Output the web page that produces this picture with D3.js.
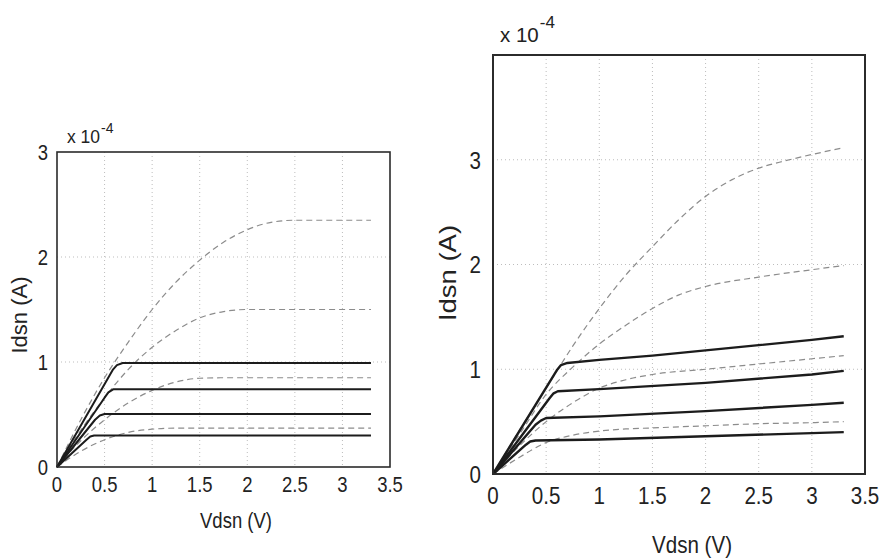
<!DOCTYPE html>
<html lang="en">
<head>
<meta charset="utf-8" />
<title>Idsn vs Vdsn</title>
<script src="https://cdn.jsdelivr.net/npm/d3@7"></script>
<style>
  body { margin: 0; background: #fff; }
  svg { display: block; font-family: "Liberation Sans", Arial, Helvetica, sans-serif; }
  .grid { stroke: #bdbdbd; stroke-width: 1; stroke-dasharray: 1,3; }
  .solid { fill: none; stroke: #1c1c1c; stroke-linejoin: round; }
  .dash { fill: none; stroke: #8c8c8c; stroke-width: 1.2; stroke-dasharray: 6,4; }
  text { fill: #222; }
</style>
</head>
<body>
<script>
  // DATA  (Idsn in units of 1e-4 A, Vdsn in V)
  var xTicks = [0, 0.5, 1, 1.5, 2, 2.5, 3, 3.5];
  var yTicks = [0, 1, 2, 3];

  // left plot, solid curves
  var leftSolid1 = [[0,0],[0.59,0.93],[0.63,0.97],[0.69,0.99],[3.3,0.99]];
  var leftSolid2 = [[0,0],[0.50,0.66],[0.54,0.71],[0.59,0.74],[3.3,0.74]];
  var leftSolid3 = [[0,0],[0.40,0.45],[0.45,0.49],[0.50,0.505],[3.3,0.505]];
  var leftSolid4 = [[0,0],[0.31,0.26],[0.35,0.29],[0.39,0.30],[3.3,0.30]];
  // left plot, dashed curves
  var leftDash1 = [[0,0],[0.25,0.45],[0.5,0.85],[0.75,1.19],[1,1.5],[1.25,1.76],[1.5,1.97],[1.75,2.14],[2,2.26],[2.25,2.33],[2.5,2.35],[3.3,2.35]];
  var leftDash2 = [[0,0],[0.25,0.35],[0.5,0.66],[0.75,0.93],[1,1.14],[1.25,1.3],[1.5,1.42],[1.75,1.48],[2,1.5],[3.3,1.5]];
  var leftDash3 = [[0,0],[0.25,0.25],[0.5,0.45],[0.75,0.61],[1,0.73],[1.25,0.81],[1.5,0.845],[1.75,0.85],[3.3,0.85]];
  var leftDash4 = [[0,0],[0.25,0.15],[0.5,0.26],[0.75,0.33],[1,0.36],[1.25,0.37],[3.3,0.37]];

  // right plot, solid curves
  var rightSolid1 = [[0,0],[0.6,0.99],[0.64,1.04],[0.7,1.06],[1,1.09],[1.5,1.13],[2,1.18],[2.5,1.23],[3,1.28],[3.3,1.315]];
  var rightSolid2 = [[0,0],[0.53,0.72],[0.57,0.77],[0.61,0.79],[1,0.81],[2,0.87],[3,0.95],[3.3,0.985]];
  var rightSolid3 = [[0,0],[0.40,0.47],[0.45,0.51],[0.50,0.535],[1,0.55],[2,0.60],[3,0.66],[3.3,0.68]];
  var rightSolid4 = [[0,0],[0.31,0.28],[0.35,0.31],[0.40,0.32],[1,0.33],[2,0.36],[3,0.39],[3.3,0.40]];
  // right plot, dashed curves
  var rightDash1 = [[0,0],[0.25,0.42],[0.5,0.82],[0.75,1.22],[1,1.58],[1.25,1.9],[1.5,2.17],[1.75,2.43],[2,2.65],[2.25,2.81],[2.5,2.92],[2.75,2.99],[3,3.05],[3.3,3.115]];
  var rightDash2 = [[0,0],[0.25,0.38],[0.5,0.76],[0.75,1.02],[1,1.24],[1.25,1.42],[1.5,1.58],[1.75,1.71],[2,1.79],[2.5,1.88],[3,1.95],[3.3,1.99]];
  var rightDash3 = [[0,0],[0.25,0.27],[0.5,0.5],[0.75,0.68],[1,0.82],[1.25,0.9],[1.5,0.95],[2,1.0],[2.5,1.05],[3,1.1],[3.3,1.13]];
  var rightDash4 = [[0,0],[0.25,0.16],[0.5,0.3],[0.75,0.37],[1,0.41],[1.25,0.43],[1.5,0.44],[2,0.46],[2.5,0.48],[3,0.49],[3.3,0.5]];

  // CONFIG
  var width = 886, height = 559;
  var squeeze = 0.84; // the source text is horizontally narrow

  var panels = [
    { left: 57, right: 390, top: 152, bottom: 467, yMax: 3,
      font: 22, expFont: 17.5, supFont: 14, solidWidth: 2, boxWidth: 1.6,
      yLabelX: 27, yLabelY: 315, yLabelStretch: 1.0, xLabelX: 236, xLabelY: 528,
      xTickDy: 25, yTickDx: 9, expX: 67, expY: 143, supDy: 10,
      solids: [leftSolid1, leftSolid2, leftSolid3, leftSolid4],
      dashes: [leftDash1, leftDash2, leftDash3, leftDash4] },
    { left: 493, right: 865, top: 55, bottom: 474, yMax: 4,
      font: 24.5, expFont: 20.5, supFont: 17, solidWidth: 2.4, boxWidth: 2,
      yLabelX: 456, yLabelY: 273, yLabelStretch: 1.12, xLabelX: 692, xLabelY: 553,
      xTickDy: 30, yTickDx: 12, expX: 500, expY: 42, supDy: 14,
      solids: [rightSolid1, rightSolid2, rightSolid3, rightSolid4],
      dashes: [rightDash1, rightDash2, rightDash3, rightDash4] }
  ];

  var svg = d3.select("body").append("svg")
      .attr("width", width)
      .attr("height", height);

  svg.append("rect")
      .attr("width", width)
      .attr("height", height)
      .attr("fill", "#fff");

  panels.forEach(drawPanel);

  function narrow(sel, k) {
    sel.each(function() {
      var len = this.getComputedTextLength();
      d3.select(this)
        .attr("textLength", len * k)
        .attr("lengthAdjust", "spacingAndGlyphs");
    });
  }

  function drawPanel(p) {
    var x = d3.scaleLinear().domain([0, 3.5]).range([p.left, p.right]);
    var y = d3.scaleLinear().domain([0, p.yMax]).range([p.bottom, p.top]);
    var g = svg.append("g");

    // dotted grid
    g.selectAll(".vgrid")
      .data(xTicks.filter((t) => t > 0 && t < 3.5))
      .enter().append("line")
        .attr("class", "grid")
        .attr("x1", (t) => x(t)).attr("x2", (t) => x(t))
        .attr("y1", p.top).attr("y2", p.bottom);

    g.selectAll(".hgrid")
      .data(yTicks.filter((t) => t > 0 && t < p.yMax))
      .enter().append("line")
        .attr("class", "grid")
        .attr("x1", p.left).attr("x2", p.right)
        .attr("y1", (t) => y(t)).attr("y2", (t) => y(t));

    var smooth = d3.line().x((d) => x(d[0])).y((d) => y(d[1])).curve(d3.curveMonotoneX);
    var straight = d3.line().x((d) => x(d[0])).y((d) => y(d[1]));

    g.selectAll(".dash")
      .data(p.dashes)
      .enter().append("path")
        .attr("class", "dash")
        .attr("d", smooth);

    g.selectAll(".solid")
      .data(p.solids)
      .enter().append("path")
        .attr("class", "solid")
        .attr("stroke-width", p.solidWidth)
        .attr("d", straight);

    // box
    g.append("rect")
      .attr("x", p.left).attr("y", p.top)
      .attr("width", p.right - p.left).attr("height", p.bottom - p.top)
      .attr("fill", "none")
      .attr("stroke", "#2b2b2b")
      .attr("stroke-width", p.boxWidth);

    // tick labels
    g.selectAll(".xt")
      .data(xTicks)
      .enter().append("text")
        .attr("x", (t) => x(t))
        .attr("y", p.bottom + p.xTickDy)
        .attr("text-anchor", "middle")
        .attr("font-size", p.font)
        .text((t) => d3.format("~g")(t))
        .call(narrow, squeeze);

    g.selectAll(".yt")
      .data(yTicks)
      .enter().append("text")
        .attr("x", p.left - p.yTickDx)
        .attr("y", (t) => y(t))
        .attr("dy", "0.36em")
        .attr("text-anchor", "end")
        .attr("font-size", p.font)
        .text((t) => t)
        .call(narrow, squeeze);

    // axis titles
    g.append("text")
      .attr("x", p.xLabelX)
      .attr("y", p.xLabelY)
      .attr("text-anchor", "middle")
      .attr("font-size", p.font)
      .text("Vdsn (V)")
      .call(narrow, squeeze);

    g.append("text")
      .attr("transform", `translate(${p.yLabelX},${p.yLabelY}) rotate(-90)`)
      .attr("text-anchor", "middle")
      .attr("font-size", p.font)
      .text("Idsn (A)")
      .call(narrow, p.yLabelStretch);

    // exponent, superscript as its own text (natural width, no squeeze)
    var base = g.append("text")
      .attr("x", p.expX)
      .attr("y", p.expY)
      .attr("font-size", p.expFont)
      .text("x 10");
    var bw = base.node().getComputedTextLength();

    g.append("text")
      .attr("x", p.expX + bw + 1)
      .attr("y", p.expY - p.supDy)
      .attr("font-size", p.supFont)
      .text("-4");
  }
</script>
</body>
</html>
